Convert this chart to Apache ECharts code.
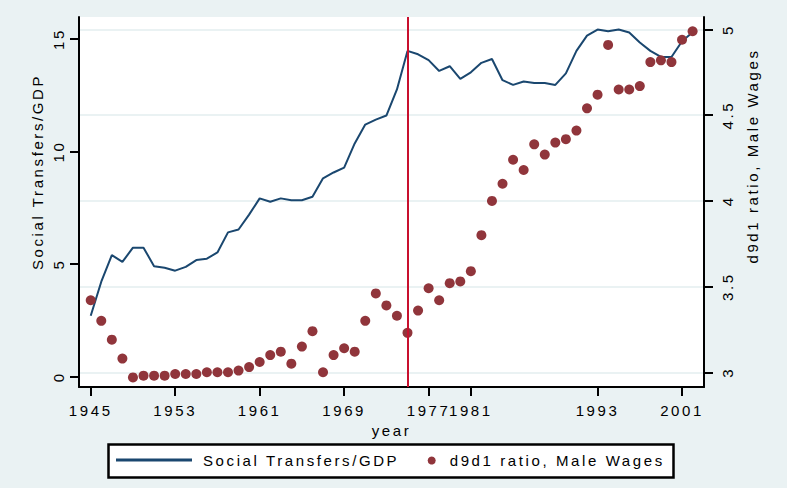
<!DOCTYPE html>
<html>
<head>
<meta charset="utf-8">
<script src="https://cdn.jsdelivr.net/npm/echarts@6/dist/echarts.min.js"></script>
<style>
html,body{margin:0;padding:0;background:#eaf2f3;}
#chart{width:787px;height:488px;}
#chart text{letter-spacing:2.6px;}
</style>
</head>
<body>
<div id="chart"></div>
<script>
// ---- data ----
const years = [1945,1946,1947,1948,1949,1950,1951,1952,1953,1954,1955,1956,1957,1958,1959,
  1960,1961,1962,1963,1964,1965,1966,1967,1968,1969,1970,1971,1972,1973,1974,
  1975,1976,1977,1978,1979,1980,1981,1982,1983,1984,1985,1986,1987,1988,1989,
  1990,1991,1992,1993,1994,1995,1996,1997,1998,1999,2000,2001,2002];
const transfers = [2.71,4.22,5.40,5.10,5.73,5.73,4.91,4.84,4.71,4.88,5.18,5.24,5.52,6.41,6.54,
  7.20,7.92,7.77,7.92,7.84,7.84,7.99,8.81,9.07,9.29,10.36,11.20,11.42,11.60,12.76,
  14.47,14.32,14.06,13.58,13.79,13.23,13.52,13.94,14.11,13.17,12.96,13.11,13.04,13.04,12.96,
  13.47,14.47,15.15,15.42,15.34,15.42,15.29,14.84,14.47,14.20,14.20,14.90,15.30];
const d9d1 = [3.42,3.30,3.19,3.08,2.97,2.98,2.98,2.98,2.99,2.99,2.99,3.00,3.00,3.00,3.01,
  3.03,3.06,3.10,3.12,3.05,3.15,3.24,3.00,3.10,3.14,3.12,3.30,3.46,3.39,3.33,
  3.23,3.36,3.49,3.42,3.52,3.53,3.59,3.80,4.00,4.10,4.24,4.18,4.33,4.27,4.34,
  4.36,4.41,4.54,4.62,4.91,4.65,4.65,4.67,4.81,4.82,4.81,4.94,4.99];
const xTickYears = [1945,1953,1961,1969,1977,1981,1993,2001];
const leftTicks = [0,5,10,15];
const rightTicks = [3,3.5,4,4.5,5];
const markYear = 1975;
const lineName = 'Social Transfers/GDP';
const dotName = 'd9d1 ratio, Male Wages';
const xName = 'year';

// ---- chart ----
const FONT = '"Liberation Sans", Arial, sans-serif';
const txt = {color:'#000', fontFamily:FONT, fontSize:15};
const chart = echarts.init(document.getElementById('chart'), null, {renderer:'svg'});
chart.setOption({
  backgroundColor:'#eaf2f3',
  animation:false,
  grid:{left:79, right:83, top:17, bottom:101, show:true, backgroundColor:'#ffffff', borderWidth:0},
  xAxis:{
    type:'value', min:1943.89, max:2003.08,
    axisLine:{show:true, onZero:false, lineStyle:{color:'#000', width:2}},
    axisTick:{show:true, customValues:xTickYears, length:9, lineStyle:{color:'#000', width:2}},
    axisLabel:Object.assign({customValues:xTickYears, margin:16, hideOverlap:false, formatter:v=>String(v)}, txt),
    splitLine:{show:false},
    name:xName, nameLocation:'middle', nameGap:35,
    nameTextStyle:Object.assign({verticalAlign:'middle'}, txt)
  },
  yAxis:[
    {
      type:'value', position:'left', min:-0.457, max:15.976,
      axisLine:{show:true, onZero:false, lineStyle:{color:'#000', width:2}},
      axisTick:{show:true, customValues:leftTicks, length:9, lineStyle:{color:'#000', width:2}},
      axisLabel:Object.assign({customValues:leftTicks, rotate:90, margin:13, formatter:v=>String(v)}, txt),
      splitLine:{show:false}
    },
    {
      type:'value', position:'right', min:2.914, max:5.073,
      axisLine:{show:true, onZero:false, lineStyle:{color:'#000', width:2}},
      axisTick:{show:true, customValues:rightTicks, length:9, lineStyle:{color:'#000', width:2}},
      axisLabel:Object.assign({customValues:rightTicks, rotate:90, margin:16, formatter:v=>String(v)}, txt),
      splitLine:{show:true, lineStyle:{color:'#eaf2f3', width:2}}
    }
  ],
  legend:[
    {data:[{name:lineName, icon:'rect', itemStyle:{color:'#1a476f'}}], left:116, top:452.5, padding:0,
     itemWidth:76, itemHeight:3, selectedMode:false,
     textStyle:Object.assign({padding:[0,0,0,6]}, txt), z:5},
    {data:[{name:dotName, icon:'circle'}], left:427.7, top:453, padding:0, itemWidth:8, itemHeight:8, selectedMode:false,
     textStyle:Object.assign({padding:[0,0,0,9]}, txt), z:5}
  ],
  graphic:[
    {type:'rect', z:1, shape:{x:108.5, y:444.5, width:565, height:33}, style:{fill:'#fff', stroke:'#000', lineWidth:2.5}},
    {type:'text', z:1, x:37, y:172, rotation:Math.PI/2,
     style:{text:lineName, fill:'#000', fontFamily:FONT, fontSize:15, align:'center', verticalAlign:'middle'}},
    {type:'text', z:1, x:752, y:156, rotation:Math.PI/2,
     style:{text:dotName, fill:'#000', fontFamily:FONT, fontSize:15, align:'center', verticalAlign:'middle'}}
  ],
  series:[
    {
      name:lineName, type:'line', yAxisIndex:0, z:2,
      data:years.map((y,i)=>[y, transfers[i]]),
      symbol:'none', lineStyle:{color:'#1a476f', width:2}, itemStyle:{color:'#1a476f'},
      markLine:{silent:true, symbol:['none','none'], label:{show:false},
        lineStyle:{color:'#c8102e', width:2, type:'solid'}, data:[{xAxis:markYear}]}
    },
    {
      name:dotName, type:'scatter', yAxisIndex:1, z:3,
      data:years.map((y,i)=>[y, d9d1[i]]),
      symbol:'circle', symbolSize:10, itemStyle:{color:'#90353b', opacity:1}
    }
  ]
});
</script>
</body>
</html>
